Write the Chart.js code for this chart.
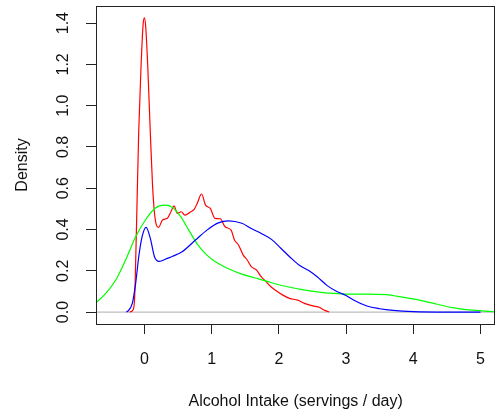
<!DOCTYPE html>
<html>
<head>
<meta charset="utf-8">
<script src="https://cdn.jsdelivr.net/npm/chart.js@4"></script>
<style>
  html, body { margin: 0; padding: 0; background: #fff; overflow: hidden; }
  #wrap { width: 495px; height: 415px; overflow: hidden; }
</style>
</head>
<body>
<div id="wrap"><canvas id="chart" width="501" height="415"></canvas></div>
<script>
'use strict';

// ─── Data ────────────────────────────────────────────────────────────────────

const X_MIN = -0.72;
const X_MAX = 5.22;
const Y_MIN = -0.058;
const Y_MAX = 1.483;

const X_TICKS = [0, 1, 2, 3, 4, 5];
const Y_TICKS = [0, 0.2, 0.4, 0.6, 0.8, 1.0, 1.2, 1.4];

const X_TITLE = 'Alcohol Intake (servings / day)';
const Y_TITLE = 'Density';

const RED_X = [-0.22, -0.17, -0.145, -0.12, -0.085, -0.05, -0.02, 0, 0.02, 0.05, 0.088, 0.12, 0.15, 0.18,
  0.21, 0.27, 0.34, 0.40, 0.44, 0.49, 0.55, 0.60, 0.69, 0.74, 0.79, 0.85, 0.91, 0.98, 1.05, 1.13,
  1.20, 1.29, 1.34, 1.40, 1.47, 1.53, 1.59, 1.67, 1.73, 1.81, 1.89, 1.96, 2.06, 2.16, 2.28, 2.38,
  2.52, 2.60, 2.67, 2.75];
const RED_Y = [0, 0.01, 0.07, 0.38, 0.87, 1.19, 1.39, 1.425, 1.38, 1.19, 0.87, 0.62, 0.48, 0.42,
  0.41, 0.446, 0.454, 0.49, 0.514, 0.478, 0.486, 0.47, 0.486, 0.497, 0.53, 0.572, 0.518, 0.502, 0.454, 0.452,
  0.413, 0.397, 0.349, 0.325, 0.276, 0.252, 0.22, 0.203, 0.174, 0.147, 0.12, 0.103, 0.082, 0.066, 0.058, 0.042,
  0.029, 0.023, 0.01, 0];

const BLUE_X = [-0.27, -0.255, -0.18, -0.13, -0.084, -0.034, 0.025, 0.088, 0.15, 0.22, 0.27, 0.31, 0.42,
  0.56, 0.76, 0.93, 1.10, 1.25, 1.45, 1.59, 1.74, 1.89, 2.03, 2.16, 2.30, 2.45, 2.57, 2.72, 2.87,
  3.0, 3.11, 3.31, 3.50, 3.70, 4.0, 4.5, 5.0];
const BLUE_Y = [0, 0.002, 0.042, 0.139, 0.268, 0.365, 0.41, 0.357, 0.268, 0.245, 0.25, 0.256, 0.27,
  0.292, 0.349, 0.397, 0.432, 0.442, 0.43, 0.405, 0.381, 0.352, 0.309, 0.268, 0.228, 0.20, 0.171, 0.128, 0.098,
  0.08, 0.058, 0.029, 0.016, 0.008, 0.002, 0, 0];

const GREEN_X = [-0.72, -0.574, -0.426, -0.28, -0.13, 0.015, 0.16, 0.294, 0.42, 0.54, 0.66, 0.78, 0.91,
  1.05, 1.25, 1.45, 1.64, 1.84, 2.08, 2.33, 2.57, 2.82, 3.01, 3.31, 3.60, 3.85, 4.09, 4.34, 4.58,
  4.83, 5.12, 5.25];
const GREEN_Y = [0.045, 0.09, 0.155, 0.252, 0.365, 0.446, 0.503, 0.518, 0.507, 0.462, 0.397, 0.333, 0.282,
  0.245, 0.21, 0.184, 0.166, 0.147, 0.126, 0.11, 0.098, 0.09, 0.087, 0.087, 0.084, 0.071, 0.058, 0.039, 0.021,
  0.01, 0.003, 0.002];

const ZERO_X = [X_MIN, X_MAX];
const ZERO_Y = [0, 0];

// ─── Styling ─────────────────────────────────────────────────────────────────

const FONT = "'Liberation Sans', Arial, Helvetica, sans-serif";
const INK  = '#111';
const AXIS = '#222';

const pts = (xs, ys) => xs.map((x, i) => ({ x, y: ys[i] }));

function line(data, color, order) {
  return {
    data,
    borderColor: color,
    borderWidth: 1.2,
    pointRadius: 0,
    fill: false,
    cubicInterpolationMode: 'monotone',
    order,
  };
}

// Box round the plot region and rotated y tick labels (R style)
const rFrame = {
  id: 'rFrame',
  afterDraw(chart) {
    const { ctx, chartArea: a, scales } = chart;
    ctx.save();
    ctx.strokeStyle = AXIS;
    ctx.lineWidth = 1;
    ctx.strokeRect(Math.round(a.left) + 0.5, Math.round(a.top) + 0.5,
      Math.round(a.right - a.left) - 1, Math.round(a.bottom - a.top));

    ctx.fillStyle = INK;
    ctx.font = `16px ${FONT}`;
    ctx.textAlign = 'center';
    ctx.textBaseline = 'middle';
    for (const v of Y_TICKS) {
      const py = scales.y.getPixelForValue(v);
      ctx.save();
      ctx.translate(64, py);
      ctx.rotate(-Math.PI / 2);
      ctx.fillText(v.toFixed(1), 0, 0);
      ctx.restore();
    }
    ctx.restore();
  },
};

new Chart(document.getElementById('chart'), {
  type: 'line',
  data: {
    datasets: [
      line(pts(ZERO_X, ZERO_Y), '#bebebe', 10),
      line(pts(RED_X, RED_Y), '#ff0000', 3),
      line(pts(GREEN_X, GREEN_Y), '#00ff00', 2),
      line(pts(BLUE_X, BLUE_Y), '#0000ff', 1),
    ],
  },
  plugins: [rFrame],
  options: {
    responsive: false,
    animation: false,
    devicePixelRatio: 1,
    layout: { padding: { top: 6, right: 1, left: 0, bottom: 0 } },
    plugins: { legend: { display: false }, tooltip: { enabled: false } },
    scales: {
      x: {
        type: 'linear',
        min: X_MIN,
        max: X_MAX,
        afterBuildTicks: s => { s.ticks = X_TICKS.map(value => ({ value })); },
        afterFit: s => { s.height = 91; },
        border: { display: false },
        grid: { drawOnChartArea: false, drawTicks: true, tickLength: 10, color: AXIS, tickColor: AXIS },
        ticks: {
          padding: 16,
          color: INK,
          font: { family: FONT, size: 16 },
          maxRotation: 0,
          callback: v => String(v),
        },
        title: {
          display: true,
          text: X_TITLE,
          color: INK,
          font: { family: FONT, size: 16 },
          padding: { top: 0, bottom: 4 },
        },
      },
      y: {
        type: 'linear',
        min: Y_MIN,
        max: Y_MAX,
        afterBuildTicks: s => { s.ticks = Y_TICKS.map(value => ({ value })); },
        afterFit: s => { s.width = 96; },
        border: { display: false },
        grid: { drawOnChartArea: false, drawTicks: true, tickLength: 10, color: AXIS, tickColor: AXIS },
        ticks: { display: false },
        title: {
          display: true,
          text: Y_TITLE,
          color: INK,
          font: { family: FONT, size: 16 },
          padding: { top: 13, bottom: 0 },
        },
      },
    },
  },
});
</script>
</body>
</html>
